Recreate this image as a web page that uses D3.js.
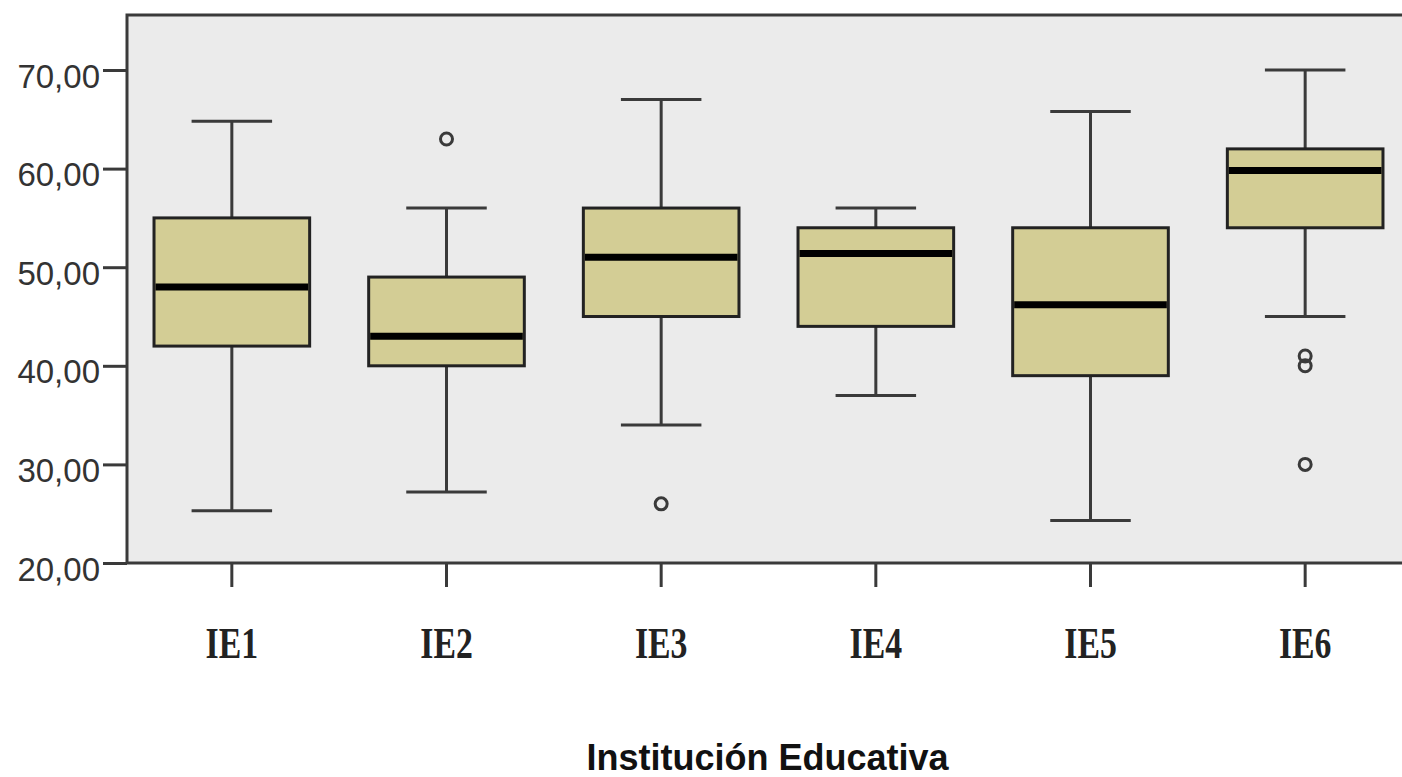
<!DOCTYPE html>
<html>
<head>
<meta charset="utf-8">
<script src="https://cdn.jsdelivr.net/npm/d3@7"></script>
<style>
  body { margin: 0; background: #fff; }
  svg { display: block; }
</style>
</head>
<body>
<div id="boxChart"></div>
<script>
// values
var categories = ["IE1", "IE2", "IE3", "IE4", "IE5", "IE6"];
var whiskerLow = [25.3, 27.2, 34, 37, 24.3, 45];
var q1 = [42, 40, 45, 44, 39, 54];
var median = [48, 43, 51, 51.4, 46.2, 59.8];
var q3 = [55, 49, 56, 54, 54, 62];
var whiskerHigh = [64.8, 56, 67, 56, 65.8, 70];
var outliers = [[], [63], [26], [], [], [41, 40, 30]];
var yTicks = [20, 30, 40, 50, 60, 70];

var width = 1402, height = 777;
var plot = {left: 127, top: 15, right: 1414, bottom: 563};

var svg = d3.select("#boxChart")
  .append("svg")
  .attr("width", width)
  .attr("height", height);

var xScale = d3.scaleBand().domain(categories).range([124.5, 1412.5]).padding(0);
var yScale = d3.scaleLinear().domain([20, 75.58]).range([plot.bottom, plot.top]);

var fmt = d3.formatLocale({decimal: ",", thousands: ".", grouping: [3], currency: ["", ""]}).format(".2f");

// plot background
svg.append("rect")
  .attr("x", plot.left)
  .attr("y", plot.top)
  .attr("width", plot.right - plot.left)
  .attr("height", plot.bottom - plot.top)
  .attr("fill", "#ebebeb")
  .attr("stroke", "#3a3a3a")
  .attr("stroke-width", 3);

var boxes = categories.map(function(c, i) {
  return {cat: c, lo: whiskerLow[i], q1: q1[i], med: median[i], q3: q3[i], hi: whiskerHigh[i], out: outliers[i]};
});

var step = xScale.bandwidth();
var boxW = step * 0.725;
var capW = step * 0.375;

var g = svg.selectAll(".box")
  .data(boxes)
  .enter().append("g")
  .attr("class", "box")
  .attr("transform", function(d) { return "translate(" + (xScale(d.cat) + step / 2) + ",0)"; });

// whiskers
g.append("line")
  .attr("x1", 0).attr("x2", 0)
  .attr("y1", function(d) { return yScale(d.hi); })
  .attr("y2", function(d) { return yScale(d.lo); })
  .attr("stroke", "#3a3a3a").attr("stroke-width", 3);

["hi", "lo"].forEach(function(k) {
  g.append("line")
    .attr("x1", -capW / 2).attr("x2", capW / 2)
    .attr("y1", function(d) { return yScale(d[k]); })
    .attr("y2", function(d) { return yScale(d[k]); })
    .attr("stroke", "#3a3a3a").attr("stroke-width", 3);
});

// box
g.append("rect")
  .attr("x", -boxW / 2)
  .attr("width", boxW)
  .attr("y", function(d) { return yScale(d.q3); })
  .attr("height", function(d) { return yScale(d.q1) - yScale(d.q3); })
  .attr("fill", "#d3cd95")
  .attr("stroke", "#222")
  .attr("stroke-width", 3);

// median
g.append("line")
  .attr("x1", -boxW / 2 + 1.5).attr("x2", boxW / 2 - 1.5)
  .attr("y1", function(d) { return yScale(d.med); })
  .attr("y2", function(d) { return yScale(d.med); })
  .attr("stroke", "#000").attr("stroke-width", 7);

// outliers
g.selectAll(".out")
  .data(function(d) { return d.out; })
  .enter().append("circle")
  .attr("class", "out")
  .attr("cx", 0)
  .attr("cy", function(v) { return yScale(v); })
  .attr("r", 6)
  .attr("fill", "none")
  .attr("stroke", "#3a3a3a")
  .attr("stroke-width", 3);

// y axis
var yAxis = svg.append("g")
  .attr("transform", "translate(" + plot.left + ",0)")
  .call(d3.axisLeft(yScale).tickValues(yTicks).tickSize(24).tickPadding(4).tickFormat(fmt));
yAxis.select(".domain").remove();
yAxis.selectAll(".tick line").attr("stroke", "#3a3a3a").attr("stroke-width", 3);
yAxis.selectAll(".tick text")
  .attr("dy", "17px")
  .attr("x", -27)
  .style("font-family", "'Liberation Sans', Arial, sans-serif")
  .style("font-size", "33px")
  .attr("fill", "#333");

// x axis
var xAxis = svg.append("g")
  .attr("transform", "translate(0," + plot.bottom + ")")
  .call(d3.axisBottom(xScale).tickSize(24).tickPadding(0));
xAxis.select(".domain").remove();
xAxis.selectAll(".tick line").attr("stroke", "#3a3a3a").attr("stroke-width", 3);
xAxis.selectAll(".tick text")
  .attr("y", 95)
  .attr("dy", 0)
  .attr("transform", "scale(0.75,1)")
  .style("font-family", "'Liberation Serif', 'Times New Roman', serif")
  .style("font-weight", "bold")
  .style("font-size", "45px")
  .attr("fill", "#222");

// axis title
svg.append("text")
  .attr("x", (plot.left + plot.right) / 2 - 3)
  .attr("y", 770)
  .attr("text-anchor", "middle")
  .style("font-family", "'Liberation Sans', Arial, sans-serif")
  .style("font-weight", "bold")
  .style("font-size", "36px")
  .attr("fill", "#111")
  .text("Institución Educativa");
</script>
</body>
</html>
